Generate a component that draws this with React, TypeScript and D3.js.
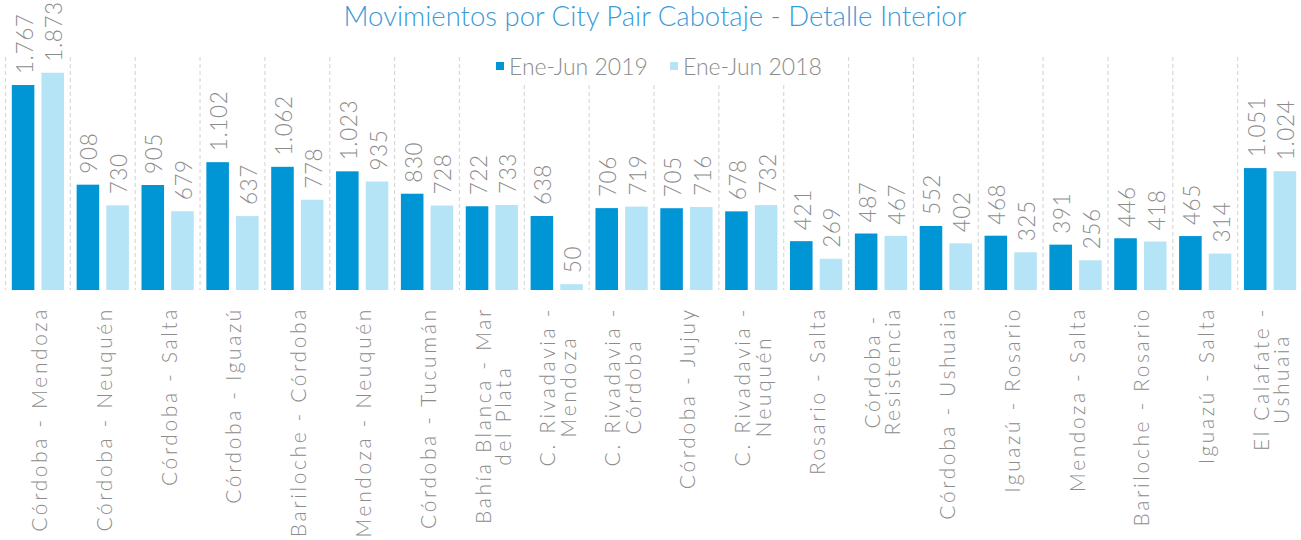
import React from "react";
import * as d3 from "d3";

const categories: string[][] = [
  ["Córdoba - Mendoza"],
  ["Córdoba - Neuquén"],
  ["Córdoba - Salta"],
  ["Córdoba - Iguazú"],
  ["Bariloche - Córdoba"],
  ["Mendoza - Neuquén"],
  ["Córdoba - Tucumán"],
  ["Bahía Blanca - Mar", "del Plata"],
  ["C. Rivadavia -", "Mendoza"],
  ["C. Rivadavia -", "Córdoba"],
  ["Córdoba - Jujuy"],
  ["C. Rivadavia -", "Neuquén"],
  ["Rosario - Salta"],
  ["Córdoba -", "Resistencia"],
  ["Córdoba - Ushuaia"],
  ["Iguazú - Rosario"],
  ["Mendoza - Salta"],
  ["Bariloche - Rosario"],
  ["Iguazú - Salta"],
  ["El Calafate -", "Ushuaia"],
];

const values2019: number[] = [1767, 908, 905, 1102, 1062, 1023, 830, 722, 638, 706, 705, 678, 421, 487, 552, 468, 391, 446, 465, 1051];
const values2018: number[] = [1873, 730, 679, 637, 778, 935, 728, 733, 50, 719, 716, 732, 269, 467, 402, 325, 256, 418, 314, 1024];

const seriesNames: string[] = ["Ene-Jun 2019", "Ene-Jun 2018"];
const seriesColors: string[] = ["#0096d6", "#b4e4f6"];
const title = "Movimientos por City Pair Cabotaje - Detalle Interior";

const W = 1301;
const H = 540;
const FONT = "Lato, 'Open Sans', sans-serif";
const GRAY = "#8c8c8c";

const CAT_SIZE = 21;
const CAT_SPACING = 2.6;

const locale = d3.formatLocale({ decimal: ",", thousands: ".", grouping: [3], currency: ["", ""] });
const fmt = locale.format(",d");

function measure(text: string, size: number, spacing: number): number {
  const c = document.createElement("canvas");
  const ctx = c.getContext("2d") as any;
  ctx.font = `300 ${size}px Lato`;
  try { ctx.letterSpacing = `${spacing}px`; } catch (e) {}
  const w = ctx.measureText(text).width;
  if (ctx.letterSpacing === undefined) return w + spacing * text.length;
  return w;
}

export default function App() {
  const keys = categories.map((_, i) => String(i));
  const x = d3.scaleBand<string>().domain(keys).range([5, 1302]).paddingInner(0).paddingOuter(0);
  const step = x.bandwidth();
  const xs = d3.scaleBand<string>().domain(["0", "1"]).range([6.8, step - 5.8]).paddingInner(0.24);
  const y = d3.scaleLinear().domain([0, 2000]).range([290, 58]);
  const series = [values2019, values2018];

  return (
    <svg width={W} height={H} style={{ position: "absolute", left: 0, top: 0, background: "#fff" }}>
      {/* separators */}
      {keys.map((k) => (
        <line key={"sep" + k} x1={x(k)! + 0.5} x2={x(k)! + 0.5} y1={y(2000) - 1} y2={y(0)}
          stroke="#d9d9d9" strokeWidth={1.2} strokeDasharray="4 3" />
      ))}
      {/* bars */}
      {series.map((vals, s) =>
        vals.map((v, i) => {
          const bx = x(String(i))! + xs(String(s))!;
          return (
            <rect key={`b${s}-${i}`} x={bx} y={y(v)} width={xs.bandwidth()} height={y(0) - y(v)} fill={seriesColors[s]} />
          );
        })
      )}
      {/* value labels */}
      {series.map((vals, s) =>
        vals.map((v, i) => {
          const cx = x(String(i))! + xs(String(s))! + xs.bandwidth() / 2;
          const ty = y(v) - 11;
          return (
            <text key={`v${s}-${i}`} transform={`translate(${cx + 1},${ty}) rotate(-90)`} fill={GRAY}
              fontFamily={FONT} fontWeight={300} fontSize={22.5} letterSpacing={0.6}
              dominantBaseline="central" textAnchor="start">
              {fmt(v)}
            </text>
          );
        })
      )}
      {/* category labels */}
      {categories.map((lines, i) => {
        const cx = x(String(i))! + step / 2;
        const lh = 20.5;
        const maxW = Math.max(...lines.map((l) => measure(l, CAT_SIZE, CAT_SPACING)));
        const cy = 307 + maxW / 2;
        return lines.map((ln, j) => {
          const lx = cx + (j - (lines.length - 1) / 2) * lh + 1;
          return (
            <text key={`c${i}-${j}`} transform={`translate(${lx},${cy}) rotate(-90)`} fill={GRAY}
              fontFamily={FONT} fontWeight={300} fontSize={CAT_SIZE} letterSpacing={CAT_SPACING}
              dominantBaseline="central" textAnchor="middle">
              {ln}
            </text>
          );
        });
      })}
      {/* legend */}
      <rect x={490} y={57} width={338} height={27} fill="#fff" />
      {seriesNames.map((n, i) => {
        const lx = 496 + i * 174;
        return (
          <g key={"lg" + i}>
            <rect x={lx} y={62} width={8} height={8} fill={seriesColors[i]} />
            <text x={lx + 13} y={75} fill={GRAY} fontFamily={FONT} fontWeight={300} fontSize={23}>{n}</text>
          </g>
        );
      })}
      {/* title */}
      <text x={655} y={26} textAnchor="middle" fill="#3a9ad9" fontFamily={FONT} fontWeight={300} fontSize={27.5}>{title}</text>
    </svg>
  );
}
